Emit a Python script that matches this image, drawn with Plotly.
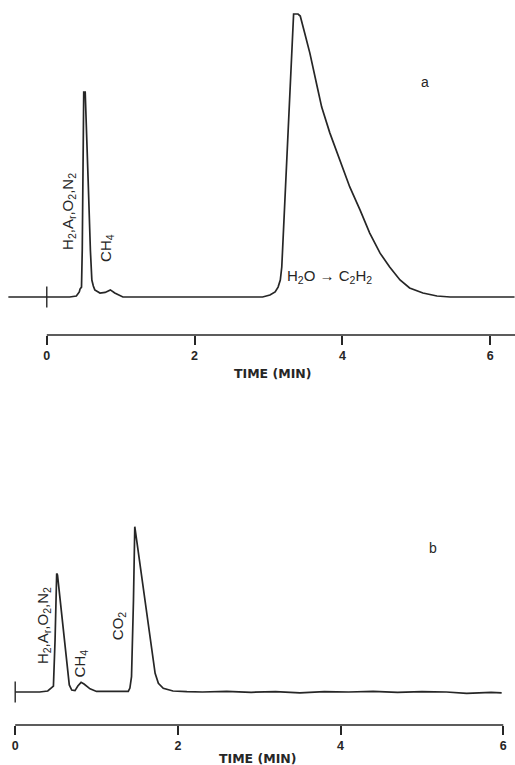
import plotly.graph_objects as go

# ---------------- data ----------------
# Panel a: time (min) and detector signal (relative units)
time_a = [-0.52, -0.02, 0.31, 0.40, 0.44, 0.45, 0.47, 0.48, 0.49, 0.50, 0.52, 0.53, 0.56,
          0.59, 0.61, 0.63, 0.65, 0.72, 0.79, 0.86, 0.92, 1.03, 2.92, 3.02, 3.09, 3.13,
          3.16, 3.18, 3.25, 3.33, 3.34, 3.40, 3.43, 3.49, 3.56, 3.66, 3.72, 3.83, 3.97,
          4.10, 4.24, 4.37, 4.51, 4.64, 4.78, 4.91, 5.09, 5.28, 5.46, 6.33]
signal_a = [0, 0, 0, 0.35, 1.8, 2.8, 3.5, 16.6, 52, 72.4, 72.4, 66, 41,
            16.6, 6, 3.9, 2.5, 1.4, 1.6, 2.5, 1.4, 0, 0, 0.7, 1.8, 3.5,
            6, 10.6, 52, 98.9, 100, 100, 99.3, 93.3, 86.2, 74.2, 67.1, 58, 48.4,
            38.9, 30.7, 22.6, 15.5, 10.6, 6, 3.2, 1.4, 0.35, 0, 0]

# Panel b
time_b = [0, 0.30, 0.40, 0.45, 0.47, 0.49, 0.50, 0.51, 0.52, 0.59, 0.665, 0.695, 0.735,
          0.77, 0.81, 0.846, 0.92, 1.0, 1.39, 1.41, 1.43, 1.454, 1.47, 1.72, 1.76, 1.82,
          1.94, 2.11, 2.3, 2.6, 2.9, 3.2, 3.5, 3.8, 4.1, 4.4, 4.7, 5.0, 5.3, 5.55, 5.7,
          5.85, 5.98]
signal_b = [0, 0, 0.35, 1.4, 2.1, 18.4, 36, 41.9, 41.3, 21.9, 2.5, 0.7, 0.5,
            2.1, 3.4, 2.8, 1.1, 0.2, 0.2, 1.4, 5.4, 32.5, 58.4, 6.6, 3.1, 1.3,
            0.35, 0.1, 0, 0.2, -0.1, 0.1, -0.3, 0.1, 0, 0.2, -0.1, 0.1, 0, -0.5, -0.4,
            -0.1, -0.3]

tick_values = [0, 2, 4, 6]
tick_labels = ["0", "2", "4", "6"]
injection_time = [0]
injection_signal = [0]

axis_title = "TIME (MIN)"
labels_a = ["H<sub>2</sub>,A<sub>r</sub>,O<sub>2</sub>,N<sub>2</sub>", "CH<sub>4</sub>",
            "H<sub>2</sub>O → C<sub>2</sub>H<sub>2</sub>", "a"]
labels_b = ["H<sub>2</sub>,A<sub>r</sub>,O<sub>2</sub>,N<sub>2</sub>", "CH<sub>4</sub>",
            "CO<sub>2</sub>", "b"]

# ---------------- figure ----------------
INK = "#262626"
FONT = "Liberation Sans, Arial, sans-serif"
WIDE = "DejaVu Sans, sans-serif"

fig = go.Figure()
fig.add_trace(go.Scatter(x=time_a, y=signal_a, mode="lines", xaxis="x", yaxis="y",
                         line=dict(color=INK, width=1.7), showlegend=False, hoverinfo="skip"))
fig.add_trace(go.Scatter(x=injection_time, y=injection_signal, mode="markers", xaxis="x", yaxis="y",
                         marker=dict(symbol="line-ns", size=15, line=dict(color=INK, width=1.4)),
                         showlegend=False, hoverinfo="skip"))
fig.add_trace(go.Scatter(x=time_b, y=signal_b, mode="lines", xaxis="x2", yaxis="y2",
                         line=dict(color=INK, width=1.7), showlegend=False, hoverinfo="skip"))
fig.add_trace(go.Scatter(x=injection_time, y=injection_signal, mode="markers", xaxis="x2", yaxis="y2",
                         marker=dict(symbol="line-ns", size=15, line=dict(color=INK, width=1.4)),
                         showlegend=False, hoverinfo="skip"))

xax_common = dict(showgrid=False, zeroline=False, showline=False,
                  tickmode="array", tickvals=tick_values, ticktext=tick_labels,
                  ticks="outside", ticklen=9, tickwidth=1.6, tickcolor=INK,
                  tickfont=dict(family=FONT, size=12.5, color=INK, weight="bold"),
                  automargin=False, fixedrange=True)
yax_common = dict(visible=False, showgrid=False, zeroline=False, fixedrange=True)

fig.update_layout(
    width=515, height=765,
    margin=dict(l=0, r=0, t=0, b=0),
    paper_bgcolor="white", plot_bgcolor="white",
    xaxis=dict(domain=[0.0155, 1.0], range=[-0.525, 6.336], anchor="y", **xax_common),
    yaxis=dict(domain=[0.5621, 0.9935], range=[-13.43, 103.2], anchor="x", **yax_common),
    xaxis2=dict(domain=[0.0194, 1.0], range=[-0.064, 6.144], anchor="y2", **xax_common),
    yaxis2=dict(domain=[0.0523, 0.4902], range=[-11.66, 106.7], anchor="x2", **yax_common),
)

# axis base lines starting at time zero
fig.add_shape(type="line", xref="x", yref="y domain", x0=0, x1=6.336, y0=0, y1=0,
              line=dict(color=INK, width=1.6))
fig.add_shape(type="line", xref="x2", yref="y2 domain", x0=0, x1=6.0, y0=0, y1=0,
              line=dict(color=INK, width=1.6))

lab_font = dict(family=FONT, size=15, color=INK)

# axis titles
fig.add_annotation(text=axis_title, xref="x", yref="y domain", x=3.05, y=0, yshift=-48,
                   showarrow=False, font=dict(family=WIDE, size=12.5, color=INK, weight="bold"))
fig.add_annotation(text=axis_title, xref="x2", yref="y2 domain", x=2.98, y=0, yshift=-43,
                   showarrow=False, font=dict(family=WIDE, size=12.5, color=INK, weight="bold"))

# panel a labels
fig.add_annotation(text=labels_a[0], xref="x", yref="y", x=0.30, y=30.4, textangle=-90,
                   showarrow=False, font=lab_font)
fig.add_annotation(text=labels_a[1], xref="x", yref="y", x=0.80, y=17.3, textangle=-90,
                   showarrow=False, font=lab_font)
fig.add_annotation(text=labels_a[2], xref="x", yref="y", x=3.82, y=7.1,
                   showarrow=False, font=lab_font)
fig.add_annotation(text=labels_a[3], xref="x", yref="y", x=5.12, y=76,
                   showarrow=False, font=dict(family=FONT, size=14, color=INK))

# panel b labels
fig.add_annotation(text=labels_b[0], xref="x2", yref="y2", x=0.342, y=23.3, textangle=-90,
                   showarrow=False, font=lab_font)
fig.add_annotation(text=labels_b[1], xref="x2", yref="y2", x=0.80, y=10.2, textangle=-90,
                   showarrow=False, font=lab_font)
fig.add_annotation(text=labels_b[2], xref="x2", yref="y2", x=1.265, y=23.3, textangle=-90,
                   showarrow=False, font=lab_font)
fig.add_annotation(text=labels_b[3], xref="x2", yref="y2", x=5.14, y=50.9,
                   showarrow=False, font=dict(family=FONT, size=14, color=INK))

fig.write_html("out.html", config={"displayModeBar": False},
               post_script="document.body.style.margin='0px';document.body.style.overflow='hidden';")
